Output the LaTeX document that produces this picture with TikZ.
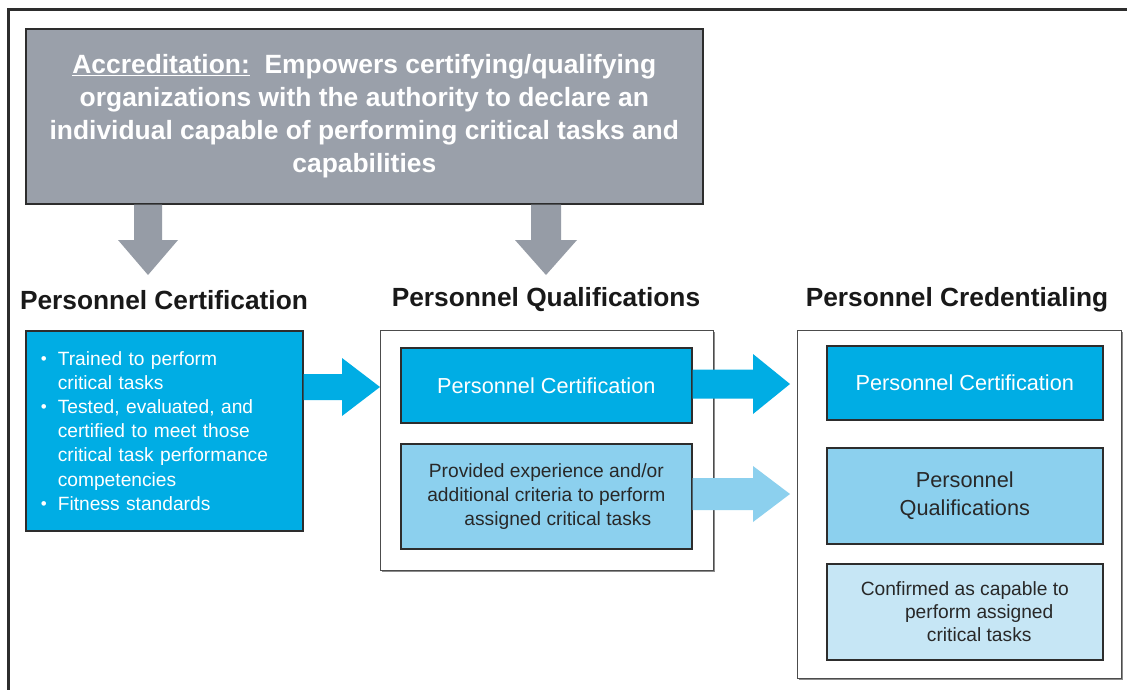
\documentclass[tikz,border=0pt]{standalone}
\usepackage{fontspec}
\setmainfont{Liberation Sans}
\usetikzlibrary{calc}
\definecolor{cyanbox}{RGB}{0,173,228}
\definecolor{lightbox}{RGB}{140,208,238}
\definecolor{palebox}{RGB}{198,230,245}
\definecolor{graybox}{RGB}{154,160,170}
\definecolor{grayarrow}{RGB}{150,156,166}
\definecolor{edge}{RGB}{45,45,45}
\definecolor{darktext}{RGB}{40,40,40}
\tikzset{
  shade box/.style={preaction={fill=black!45, transform canvas={shift={(1.6pt,-1.6pt)}}}},
  box/.style={draw=edge, line width=1.6pt, anchor=north west, inner sep=0pt, align=center, shade box},
  container/.style={draw=edge!85, line width=1.4pt, fill=white, anchor=north west, inner sep=0pt, shade box},
  heading/.style={font=\fontsize{26.3}{30}\selectfont\bfseries, text=black!90, inner sep=0pt},
  boxtext/.style={font=\fontsize{19.2}{24.2}\selectfont},
  bigtext/.style={font=\fontsize{21.7}{28}\selectfont},
}
\newcommand\hblockarrow[6]{%
  \fill[#1] let \p1=(#2), \p2=(#3) in
  (\x1,\y1+#4) -- (\x2-#6,\y1+#4) -- (\x2-#6,\y1+#5) -- (\x2,\y1) --
  (\x2-#6,\y1-#5) -- (\x2-#6,\y1-#4) -- (\x1,\y1-#4) -- cycle;}
\newcommand\vblockarrow[6]{%
  \fill[#1] let \p1=(#2), \p2=(#3) in
  (\x1-#4,\y1) -- (\x1-#4,\y2+#6) -- (\x1-#5,\y2+#6) -- (\x1,\y2) --
  (\x1+#5,\y2+#6) -- (\x1+#4,\y2+#6) -- (\x1+#4,\y1) -- cycle;}
\newcommand\bul{\makebox[17pt][l]{\raisebox{0.5pt}{\fontsize{17}{17}\selectfont\textbullet}}}
\begin{document}
\begin{tikzpicture}[x=1pt,y=-1pt]
\useasboundingbox (0,0) rectangle (1127,690);
\clip (0,0) rectangle (1127,690);
\fill[white] (0,0) rectangle (1127,690);
% outer frame
\draw[line width=3pt, edge] (8,720) -- (8,10) -- (1160,10);

% accreditation box
\node[box, fill=graybox, minimum width=677pt, minimum height=175pt,
      text=white, font=\fontsize{26.4}{33}\selectfont\bfseries] (acc) at (25,28)
  {\underline{Accreditation:}\ \ Empowers certifying/qualifying\\
   organizations with the authority to declare an\\
   individual capable of performing critical tasks and\\
   capabilities};

% headings
\node[heading] (h1) at (164,300) {Personnel Certification};
\node[heading] (h2) at (546,300) {Personnel Qualifications};
\node[heading] (h3) at (957,300) {Personnel Credentialing};

% certification box
\node[box, fill=cyanbox, minimum height=200pt, text width=247pt, inner xsep=15pt,
      align=left, text=white, boxtext] (cert) at (25,330)
  {\bul Trained to perform\\
   \hspace*{17pt}critical tasks\\
   \bul Tested, evaluated, and\\
   \hspace*{17pt}certified to meet those\\
   \hspace*{17pt}critical task performance\\
   \hspace*{17pt}competencies\\
   \bul Fitness standards};

% qualifications container
\node[container, minimum width=333pt, minimum height=240pt] (qual) at (380,330) {};
\node[box, fill=cyanbox, minimum width=291pt, minimum height=75pt, text=white, bigtext] (qcert) at (400,347)
  {Personnel Certification};
\node[box, fill=lightbox, minimum width=291pt, minimum height=105pt, text=darktext, boxtext] (qexp) at (400,443)
  {Provided experience and/or\\additional criteria to perform\\\hspace*{1.2em}assigned critical tasks};

% credentialing container
\node[container, minimum width=324pt, minimum height=348pt] (cred) at (797,330) {};
\node[box, fill=cyanbox, minimum width=276pt, minimum height=74pt, text=white, bigtext] (ccert) at (826,345)
  {Personnel Certification};
\node[box, fill=lightbox, minimum width=276pt, minimum height=96pt, text=darktext, bigtext] (cqual) at (826,447)
  {Personnel\\Qualifications};
\node[box, fill=palebox, minimum width=276pt, minimum height=96pt, text=darktext, boxtext,
      font=\fontsize{19.2}{23}\selectfont] (cconf) at (826,563)
  {Confirmed as capable to\\\hspace*{1.5em}perform assigned\\\hspace*{1.5em}critical tasks};

% arrow anchor coordinates
\coordinate (g1s) at (acc.south west -| 148,0);
\coordinate (g1e) at (148,275);
\coordinate (g2s) at (acc.south west -| 546,0);
\coordinate (g2e) at (546,275);
\coordinate (b1s) at (cert.east |- 0,387);
\coordinate (b1e) at (qual.west |- 0,387);
\coordinate (b2s) at (qcert.east |- 0,384);
\coordinate (b2e) at (790,384);
\coordinate (b3s) at (qexp.east |- 0,494);
\coordinate (b3e) at (790,494);

% arrows
\vblockarrow{grayarrow}{g1s}{g1e}{14pt}{30pt}{35pt}
\vblockarrow{grayarrow}{g2s}{g2e}{15pt}{31pt}{35pt}
\hblockarrow{cyanbox}{b1s}{b1e}{13pt}{29pt}{38pt}
\hblockarrow{cyanbox}{b2s}{b2e}{14.5pt}{30pt}{37pt}
\hblockarrow{lightbox}{b3s}{b3e}{16pt}{28pt}{37pt}
\end{tikzpicture}
\end{document}
